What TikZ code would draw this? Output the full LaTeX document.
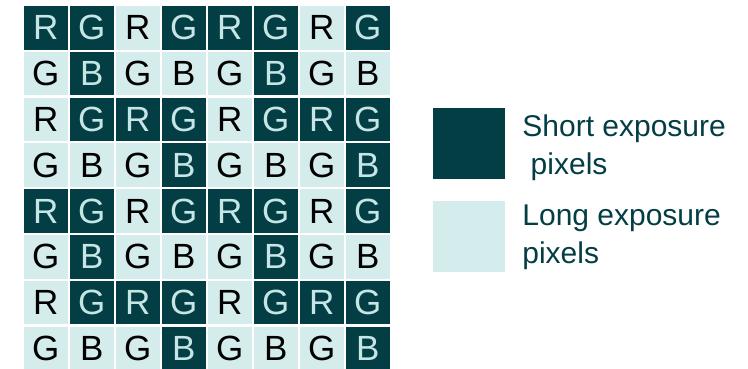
\documentclass[tikz,border=0pt]{standalone}
\usepackage{fontspec}
\setmainfont{Liberation Sans}
\usetikzlibrary{positioning,calc}
\definecolor{shortcol}{RGB}{4,62,69}
\definecolor{longcol}{RGB}{212,236,236}
\definecolor{shorttext}{RGB}{198,230,230}

\begin{document}
\begin{tikzpicture}[
        x=1pt,y=-1pt,
        px/.style={minimum width=43.5pt,minimum height=43.5pt,inner sep=0pt,font=\fontsize{35}{42}\selectfont},
        pxS/.style={px,fill=shortcol,text=shorttext},
        pxL/.style={px,fill=longcol,text=black},
        key/.style={minimum width=72pt,minimum height=71pt,inner sep=0pt},
        keytext/.style={inner sep=0pt,align=left,text=shortcol,font=\fontsize{30}{38.3}\selectfont}
      ]
      \useasboundingbox (0,0) rectangle (748,368);

      % colour filter array, S = short exposure, L = long exposure
      \foreach \r/\a/\b/\m in {1/R/G/{S,S,L,S,S,S,L,S},
                               2/G/B/{L,S,L,L,L,S,L,L},
                               3/R/G/{L,S,S,S,L,S,S,S},
                               4/G/B/{L,L,L,S,L,L,L,S},
                               5/R/G/{S,S,L,S,S,S,L,S},
                               6/G/B/{L,S,L,L,L,S,L,L},
                               7/R/G/{L,S,S,S,L,S,S,S},
                               8/G/B/{L,L,L,S,L,L,L,S}}{
        \foreach \st [count=\c] in \m {
          \node[px\st] (c\r\c) at ({45.8+46*(\c-1)},{27.8+45.8*(\r-1)}) {\ifodd\c\relax\a\else\b\fi};
        }
      }

      % legend
      \node[key,fill=shortcol] (keyS) at (469,143.6) {};
      \node[key,fill=longcol,below=21pt of keyS] (keyL) {};
      \node[keytext,anchor=base west] (txtS) at ($(keyS.north east)+(17,66.7)$) {Short exposure\\~pixels};
      \node[keytext,anchor=base west] (txtL) at ($(keyL.north east)+(17,63.3)$) {Long exposure\\pixels};
    \end{tikzpicture}
\end{document}
